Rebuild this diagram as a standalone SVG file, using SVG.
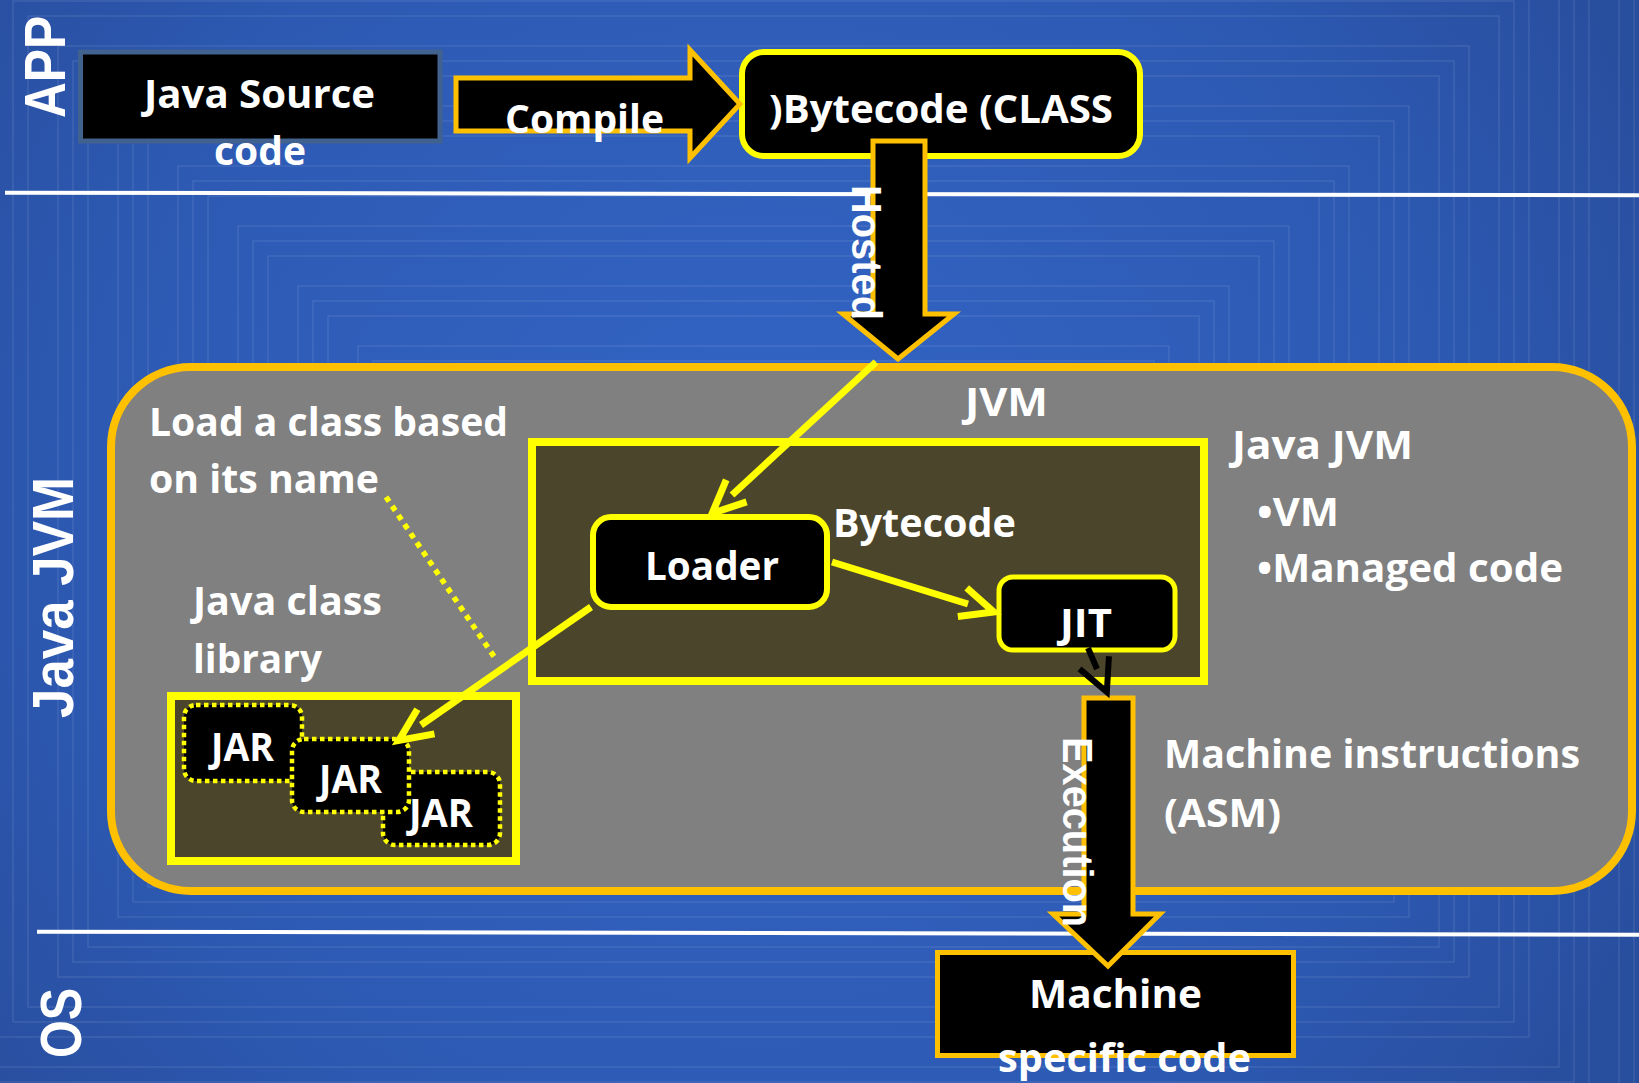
<svg xmlns="http://www.w3.org/2000/svg" width="1639" height="1083" viewBox="0 0 1639 1083">
<style>
.t{font-family:'Open Sans','Liberation Sans',sans-serif;font-weight:bold;font-size:40px;fill:#ffffff}
.v{font-family:'Liberation Sans',Arial,sans-serif;font-weight:bold;fill:#ffffff}
.ring{fill:none;stroke:#ffffff;stroke-opacity:0.12;stroke-width:1.2}
.blk{fill:#000000}
.yb{stroke:#ffff00;stroke-width:6}
.jar{fill:#000000;stroke:#ffff00;stroke-width:4.5;stroke-dasharray:4.5 3.5}
.ylink{fill:none;stroke:#ffff00;stroke-width:7}
.blink{fill:none;stroke:#000000;stroke-width:6}
.block{fill:#000000;stroke:#ffc000;stroke-width:5;stroke-linejoin:miter}
</style>
<defs>
<radialGradient id="bg" gradientUnits="userSpaceOnUse" cx="763" cy="512" r="980">
<stop offset="0" stop-color="#3365c6"/>
<stop offset="0.7" stop-color="#2d59b2"/>
<stop offset="1" stop-color="#284e9e"/>
</radialGradient>
<marker id="ay" markerUnits="userSpaceOnUse" orient="auto" refX="-27" refY="0" viewBox="-80 -40 120 80" markerWidth="120" markerHeight="80" overflow="visible">
<path d="M -33 -15 L 0 0 L -33 15" fill="none" stroke="#ffff00" stroke-width="7"/>
</marker>
<marker id="ab" markerUnits="userSpaceOnUse" orient="auto" refX="-25" refY="0" viewBox="-80 -40 120 80" markerWidth="120" markerHeight="80" overflow="visible">
<path d="M -32 -16 L 0 0 L -32 16" fill="none" stroke="#000000" stroke-width="6"/>
</marker>
</defs>

<g id="background">
<rect x="0" y="0" width="1639" height="1083" fill="url(#bg)"/>
<rect class="ring" x="-107" y="-119" width="1741" height="1261"/>
<rect class="ring" x="-92" y="-104" width="1711" height="1231"/>
<rect class="ring" x="-62" y="-74" width="1651" height="1171"/>
<rect class="ring" x="-47" y="-59" width="1621" height="1141"/>
<rect class="ring" x="-32" y="-44" width="1591" height="1111"/>
<rect class="ring" x="-2" y="-14" width="1531" height="1051"/>
<rect class="ring" x="13" y="1" width="1501" height="1021"/>
<rect class="ring" x="28" y="16" width="1471" height="991"/>
<rect class="ring" x="58" y="46" width="1411" height="931"/>
<rect class="ring" x="73" y="61" width="1381" height="901"/>
<rect class="ring" x="88" y="76" width="1351" height="871"/>
<rect class="ring" x="118" y="106" width="1291" height="811"/>
<rect class="ring" x="133" y="121" width="1261" height="781"/>
<rect class="ring" x="148" y="136" width="1231" height="751"/>
<rect class="ring" x="178" y="166" width="1171" height="691"/>
<rect class="ring" x="193" y="181" width="1141" height="661"/>
<rect class="ring" x="208" y="196" width="1111" height="631"/>
<rect class="ring" x="238" y="226" width="1051" height="571"/>
<rect class="ring" x="253" y="241" width="1021" height="541"/>
<rect class="ring" x="268" y="256" width="991" height="511"/>
<rect class="ring" x="298" y="286" width="931" height="451"/>
<rect class="ring" x="313" y="301" width="901" height="421"/>
<rect class="ring" x="328" y="316" width="871" height="391"/>
<rect class="ring" x="358" y="346" width="811" height="331"/>
<rect class="ring" x="373" y="361" width="781" height="301"/>
<rect class="ring" x="388" y="376" width="751" height="271"/>
<rect class="ring" x="418" y="406" width="691" height="211"/>
<rect class="ring" x="433" y="421" width="661" height="181"/>
<rect class="ring" x="448" y="436" width="631" height="151"/>
<rect class="ring" x="478" y="466" width="571" height="91"/>
<rect class="ring" x="493" y="481" width="541" height="61"/>
<rect class="ring" x="508" y="496" width="511" height="31"/>
<line x1="5" y1="192.7" x2="1639" y2="195.3" stroke="#ffffff" stroke-width="4"/>
<line x1="37" y1="931.7" x2="1639" y2="934.7" stroke="#ffffff" stroke-width="4"/>
</g>

<g id="layer-labels">
<text class="v" font-size="58" transform="translate(65,118) rotate(-90)" textLength="102" lengthAdjust="spacingAndGlyphs">APP</text>
<text class="v" font-size="57" transform="translate(73,718) rotate(-90)" textLength="241" lengthAdjust="spacingAndGlyphs">Java JVM</text>
<text class="v" font-size="58" transform="translate(81,1058) rotate(-90)" textLength="70" lengthAdjust="spacingAndGlyphs">OS</text>
</g>

<g id="node-java-source">
<rect x="80.5" y="52" width="359.5" height="89" fill="#000000" stroke="#41618f" stroke-width="5"/>
<text class="t" x="144" y="108" textLength="231" lengthAdjust="spacingAndGlyphs">Java Source</text>
<text class="t" x="214" y="165" textLength="92" lengthAdjust="spacingAndGlyphs">code</text>
</g>

<g id="node-bytecode-class">
<rect class="blk yb" x="742" y="52" width="398" height="104" rx="22"/>
<text class="t" x="769" y="123" textLength="344" lengthAdjust="spacingAndGlyphs">)Bytecode (CLASS</text>
</g>

<g id="node-jvm">
<rect x="111" y="367" width="1521" height="524" rx="80" fill="#808080" stroke="#ffc000" stroke-width="8"/>
<text class="t" x="965" y="416" textLength="83" lengthAdjust="spacingAndGlyphs">JVM</text>
<text class="t" x="149" y="436" textLength="359" lengthAdjust="spacingAndGlyphs">Load a class based</text>
<text class="t" x="149" y="493" textLength="230" lengthAdjust="spacingAndGlyphs">on its name</text>
<text class="t" x="193" y="615" textLength="189" lengthAdjust="spacingAndGlyphs">Java class</text>
<text class="t" x="193" y="673" textLength="129" lengthAdjust="spacingAndGlyphs">library</text>
<text class="t" x="1232" y="459" textLength="181" lengthAdjust="spacingAndGlyphs">Java JVM</text>
<text class="t" x="1257" y="526" textLength="82" lengthAdjust="spacingAndGlyphs">•VM</text>
<text class="t" x="1257" y="582" textLength="306" lengthAdjust="spacingAndGlyphs">•Managed code</text>
<text class="t" x="1164" y="768" textLength="416" lengthAdjust="spacingAndGlyphs">Machine instructions</text>
<text class="t" x="1164" y="827" textLength="117" lengthAdjust="spacingAndGlyphs">(ASM)</text>
</g>

<g id="node-jvm-core">
<rect x="532" y="442" width="672" height="239" fill="#4b452c" stroke="#ffff00" stroke-width="8"/>
</g>

<g id="node-loader">
<rect class="blk yb" x="593" y="517" width="234" height="90" rx="18"/>
<text class="t" x="645" y="580" textLength="134" lengthAdjust="spacingAndGlyphs">Loader</text>
</g>

<g id="node-jit">
<rect class="blk" x="999" y="577" width="176" height="73" rx="14" stroke="#ffff00" stroke-width="5"/>
<text class="t" x="1060" y="637" textLength="52" lengthAdjust="spacingAndGlyphs">JIT</text>
</g>

<g id="node-class-library">
<rect x="171" y="696" width="345" height="165" fill="#4b452c" stroke="#ffff00" stroke-width="8"/>
<g id="node-jar-1">
<rect class="jar" x="184" y="705" width="118" height="76" rx="12"/>
<text class="t" x="211" y="761" textLength="63" lengthAdjust="spacingAndGlyphs">JAR</text>
</g>
<g id="node-jar-3">
<rect class="jar" x="383" y="772" width="117" height="73" rx="12"/>
</g>
<g id="node-jar-2">
<rect class="jar" x="292" y="739" width="117" height="73" rx="12"/>
<text class="t" x="319" y="793" textLength="63" lengthAdjust="spacingAndGlyphs">JAR</text>
</g>
<text class="t" x="409" y="827" textLength="64" lengthAdjust="spacingAndGlyphs">JAR</text>
</g>

<g id="node-machine-code">
<rect x="937.5" y="952.5" width="356" height="103" fill="#000000" stroke="#ffc000" stroke-width="5"/>
<text class="t" x="1029" y="1008" textLength="173" lengthAdjust="spacingAndGlyphs">Machine</text>
<text class="t" x="998" y="1072" textLength="253" lengthAdjust="spacingAndGlyphs">specific code</text>
</g>

<g id="connectors">
<polygon class="block" points="456,78 690,78 690,50 740,104 690,158 690,131 456,131"/>
<text class="t" x="505" y="133" textLength="159" lengthAdjust="spacingAndGlyphs">Compile</text>
<polygon class="block" points="873,141 925,141 925,314 954,314 898,359 843,314 873,314"/>
<text class="v" font-size="43" transform="translate(852,185) rotate(90)" textLength="135" lengthAdjust="spacingAndGlyphs">Hosted</text>
<polygon class="block" points="1084,698 1133,698 1133,914 1160,914 1108,966 1053,914 1084,914"/>
<text class="v" font-size="42" transform="translate(1063,737) rotate(90)" textLength="190" lengthAdjust="spacingAndGlyphs">Execution</text>
<path class="ylink" d="M 876 362 L 732 495" marker-end="url(#ay)"/>
<path class="ylink" d="M 832 562 L 968 604" marker-end="url(#ay)"/>
<path class="ylink" d="M 591 607 L 421 725" marker-end="url(#ay)"/>
<path class="blink" d="M 1088 648 L 1097 669" marker-end="url(#ab)"/>
<line x1="386" y1="497" x2="495" y2="658" stroke="#ffff00" stroke-width="5.5" stroke-dasharray="5.5 5.5"/>
<text class="t" x="833" y="537" textLength="183" lengthAdjust="spacingAndGlyphs">Bytecode</text>
</g>
</svg>
